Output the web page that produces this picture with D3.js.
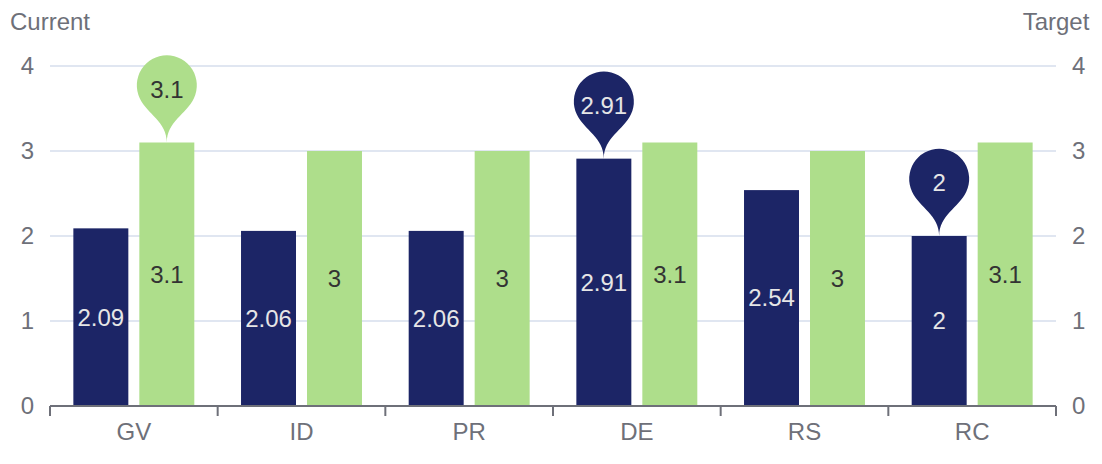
<!DOCTYPE html>
<html>
<head>
<meta charset="utf-8">
<script src="https://cdn.jsdelivr.net/npm/d3@7"></script>
<style>
  html, body { margin: 0; padding: 0; background: #fff; }
  svg { display: block; font-family: "Liberation Sans", Arial, Helvetica, sans-serif; }
</style>
</head>
<body>
<svg width="1102" height="464"></svg>
<script>
var categories = ["GV", "ID", "PR", "DE", "RS", "RC"];
var currentValues = [2.09, 2.06, 2.06, 2.91, 2.54, 2];
var targetValues = [3.1, 3, 3, 3.1, 3, 3.1];
var yTicks = [0, 1, 2, 3, 4];

var chart = function() {
    var svg = d3.select("svg");
    var gLeft = 50, gRight = 1056, gTop = 66, gBottom = 406;

    var x = d3.scaleBand().domain(categories).range([gLeft, gRight]);
    var inner = d3.scaleBand().domain(["current", "target"])
            .range([0, x.bandwidth()])
            .paddingInner(1 / 6)
            .paddingOuter(0.354);
    var y = d3.scaleLinear().domain([0, 4]).range([gBottom, gTop]);

    var navy = "#1c2566", green = "#aede8b", axisGrey = "#6E7079";

    // grid
    svg.append("g").selectAll("line")
        .data(yTicks.filter(function(d) { return d > 0; }))
        .enter().append("line")
        .attr("x1", gLeft).attr("x2", gRight)
        .attr("y1", function(d) { return y(d); })
        .attr("y2", function(d) { return y(d); })
        .attr("stroke", "#E0E6F1").attr("stroke-width", 2);

    // y labels, both sides
    [[gLeft - 16, "end"], [gRight + 16, "start"]].forEach(function(side) {
        svg.append("g").selectAll("text")
            .data(yTicks).enter().append("text")
            .attr("x", side[0]).attr("y", function(d) { return y(d); })
            .attr("text-anchor", side[1]).attr("dy", "0.35em")
            .attr("fill", axisGrey).attr("font-size", 24)
            .text(function(d) { return d; });
    });

    // axis names
    svg.append("text").attr("x", gLeft).attr("y", gTop - 30).attr("dy", "-0.25em")
        .attr("text-anchor", "middle").attr("fill", axisGrey).attr("font-size", 24)
        .text("Current");
    svg.append("text").attr("x", gRight).attr("y", gTop - 30).attr("dy", "-0.25em")
        .attr("text-anchor", "middle").attr("fill", axisGrey).attr("font-size", 24)
        .text("Target");

    var rows = categories.map(function(c, i) {
        return {cat: c, current: currentValues[i], target: targetValues[i]};
    });

    var series = [
        {key: "current", color: navy, labelColor: "#e6e6e6"},
        {key: "target", color: green, labelColor: "#333"}
    ];

    series.forEach(function(s) {
        var g = svg.append("g");
        g.selectAll("rect").data(rows).enter().append("rect")
            .attr("x", function(d) { return x(d.cat) + inner(s.key); })
            .attr("width", inner.bandwidth())
            .attr("y", function(d) { return y(d[s.key]); })
            .attr("height", function(d) { return y(0) - y(d[s.key]); })
            .attr("fill", s.color);
        g.selectAll("text").data(rows).enter().append("text")
            .attr("x", function(d) { return x(d.cat) + inner(s.key) + inner.bandwidth() / 2; })
            .attr("y", function(d) { return (y(d[s.key]) + y(0)) / 2; })
            .attr("dy", "0.35em").attr("text-anchor", "middle")
            .attr("font-size", 24).attr("fill", s.labelColor)
            .text(function(d) { return d[s.key]; });
    });

    // x axis
    var ax = svg.append("g");
    ax.append("line").attr("x1", gLeft).attr("x2", gRight)
        .attr("y1", gBottom).attr("y2", gBottom)
        .attr("stroke", axisGrey).attr("stroke-width", 2);
    ax.selectAll(".tick").data(d3.range(categories.length + 1)).enter().append("line")
        .attr("x1", function(i) { return gLeft + i * x.step(); })
        .attr("x2", function(i) { return gLeft + i * x.step(); })
        .attr("y1", gBottom).attr("y2", gBottom + 10)
        .attr("stroke", axisGrey).attr("stroke-width", 2);
    ax.selectAll("text").data(categories).enter().append("text")
        .attr("x", function(d) { return x(d) + x.bandwidth() / 2; })
        .attr("y", gBottom + 16).attr("dy", "0.75em")
        .attr("text-anchor", "middle").attr("fill", axisGrey).attr("font-size", 24)
        .text(function(d) { return d; });

    // pin markers (max of target, max and min of current)
    function pinPath(tx, ty, size) {
        var w = size / 5 * 3, h = Math.max(w, size), r = w / 2;
        var dy = r * r / (h - r);
        var cy = ty - h + r + dy;
        var angle = Math.asin(dy / r);
        var dx = Math.cos(angle) * r;
        var tanX = Math.sin(angle), tanY = Math.cos(angle);
        var cp = r * 0.6, cp2 = r * 0.7;
        var p = d3.path();
        p.moveTo(tx - dx, cy + dy);
        p.arc(tx, cy, r, Math.PI - angle, Math.PI * 2 + angle);
        p.bezierCurveTo(tx + dx - tanX * cp, cy + dy + tanY * cp, tx, ty - cp2, tx, ty);
        p.bezierCurveTo(tx, ty - cp2, tx - dx + tanX * cp, cy + dy + tanY * cp, tx - dx, cy + dy);
        p.closePath();
        return p.toString();
    }

    function idxOf(arr, fn) { return arr.indexOf(fn.apply(null, arr)); }
    var markers = [
        {key: "target", i: idxOf(targetValues, Math.max), color: green, text: "#333"},
        {key: "current", i: idxOf(currentValues, Math.max), color: navy, text: "#e6e6e6"},
        {key: "current", i: idxOf(currentValues, Math.min), color: navy, text: "#e6e6e6"}
    ];

    var mg = svg.append("g");
    markers.forEach(function(m) {
        var row = rows[m.i];
        var tx = x(row.cat) + inner(m.key) + inner.bandwidth() / 2;
        var ty = y(row[m.key]);
        mg.append("path").attr("d", pinPath(tx, ty, 100)).attr("fill", m.color);
        mg.append("text").attr("x", tx).attr("y", ty - 53).attr("dy", "0.35em")
            .attr("text-anchor", "middle").attr("font-size", 24).attr("fill", m.text)
            .text(row[m.key]);
    });
}();
</script>
</body>
</html>
